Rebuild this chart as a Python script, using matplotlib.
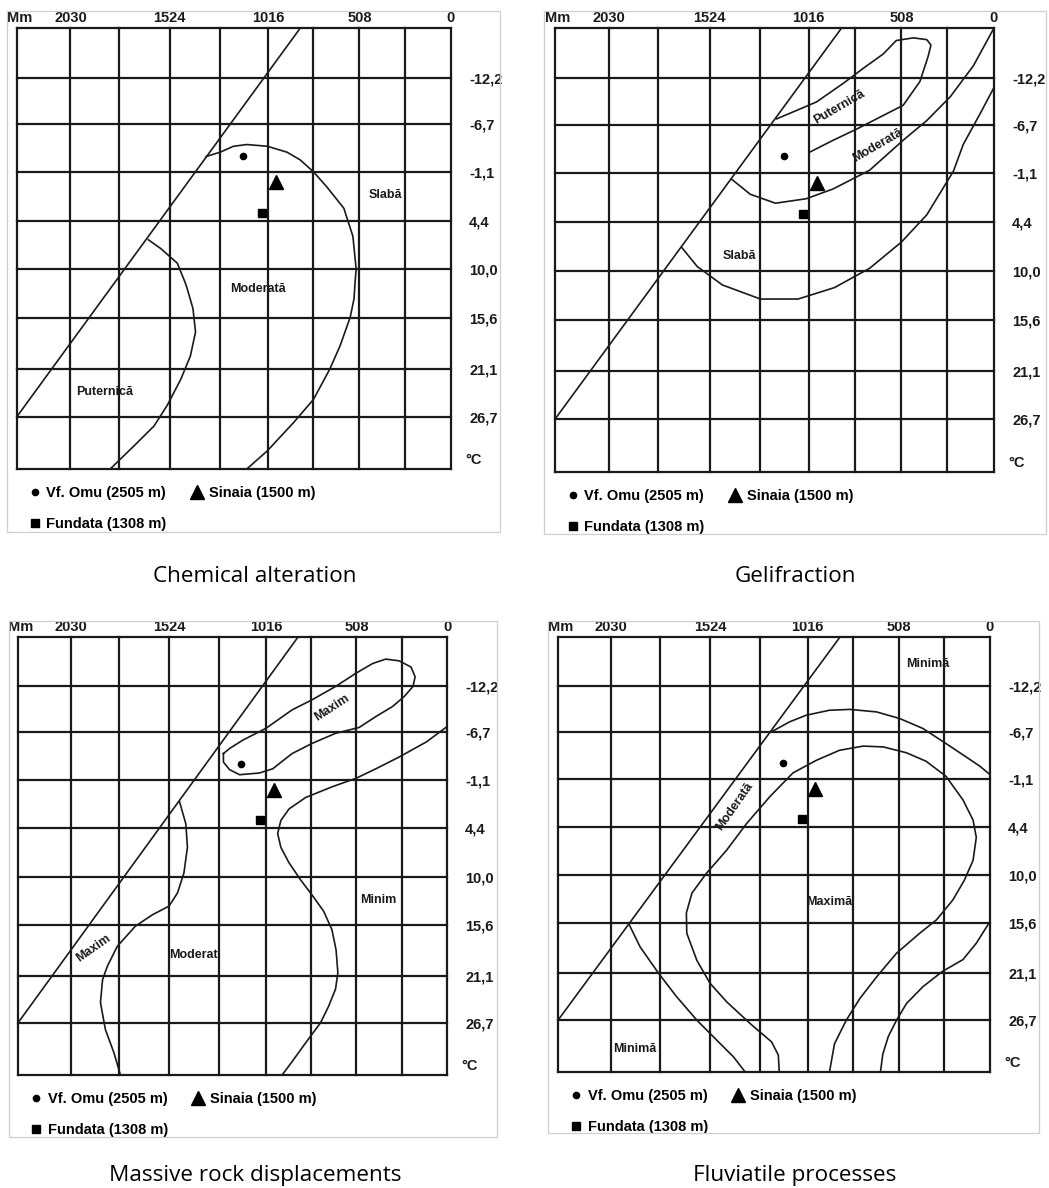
import matplotlib
matplotlib.use("Agg")
import matplotlib.pyplot as plt
import numpy as np
from matplotlib.patches import Rectangle

plt.rcParams['font.family'] = ['Liberation Sans', 'DejaVu Sans']

# ---------------- axes grid (precipitation mm, temperature °C) ----------------
P_GRID = [2286, 2032, 1778, 1524, 1270, 1016, 762, 508, 254, 0]
T_GRID = [-17.8, -12.2, -6.7, -1.1, 4.4, 10.0, 15.6, 21.1, 26.7, 32.2]
P_TICKS = [2032, 1524, 1016, 508, 0]
P_LABELS = ["2030", "1524", "1016", "508", "0"]
T_TICKS = [-12.2, -6.7, -1.1, 4.4, 10.0, 15.6, 21.1, 26.7]
T_LABELS = ["-12,2", "-6,7", "-1,1", "4,4", "10,0", "15,6", "21,1", "26,7"]

# diagonal limit line (same in every panel)
LIMIT_P = [835, 2286]
LIMIT_T = [-17.8, 26.7]

# stations
STATION_NAMES = ["Vf. Omu (2505 m)", "Sinaia (1500 m)", "Fundata (1308 m)"]
STATION_P = [1148, 973, 1046]
STATION_T = [-3.0, 0.1, 3.5]

# ---------------- Chemical alteration ----------------
CHEM_MOD_P = [1340, 1270, 1199, 1128, 1019, 909, 836, 762, 688, 594, 544, 526, 531, 538,
              559, 615, 671, 762, 871, 1019, 1128]
CHEM_MOD_T = [-2.9, -3.4, -4.1, -4.3, -4.1, -3.4, -2.5, -1.1, 0.6, 3.0, 6.2, 10.0, 11.2, 13.4,
              15.5, 18.6, 21.1, 24.7, 27.3, 30.3, 32.2]
CHEM_PUT_P = [1631, 1570, 1486, 1445, 1435, 1407, 1394, 1420, 1468, 1537, 1603, 1704, 1824]
CHEM_PUT_T = [6.6, 7.6, 9.3, 11.6, 12.3, 14.5, 17.1, 19.7, 22.3, 25.4, 27.7, 29.8, 32.2]
CHEM_LABELS = ["Slabă", "Moderată", "Puternică"]
CHEM_LABEL_P = [363, 1067, 1852]
CHEM_LABEL_T = [1.5, 12.3, 23.8]
CHEM_LABEL_ROT = [0, 0, 0]

# ---------------- Gelifraction ----------------
GEL_PUT_P = [1185, 1079, 973, 825, 716, 607, 536, 442, 368, 345, 361, 406, 498, 625, 752, 881, 1011]
GEL_PUT_T = [-7.4, -8.4, -9.4, -11.6, -13.3, -14.9, -16.4, -16.7, -16.5, -15.9, -14.6, -11.8,
             -9.0, -7.6, -6.2, -4.9, -3.5]
GEL_MOD_P = [1415, 1321, 1191, 1029, 881, 681, 498, 368, 239, 112, 0]
GEL_MOD_T = [-0.4, 1.3, 2.3, 1.8, 0.7, -1.4, -4.9, -7.2, -10.0, -13.6, -17.8]
GEL_SLA_P = [1662, 1585, 1460, 1270, 1072, 874, 681, 508, 368, 221, 168, 76, 0]
GEL_SLA_T = [7.3, 9.5, 11.6, 13.2, 13.2, 11.9, 9.7, 6.7, 3.6, -1.3, -4.4, -8.0, -11.1]
GEL_LABELS = ["Puternică", "Moderată", "Slabă"]
GEL_LABEL_P = [850, 635, 1377]
GEL_LABEL_T = [-8.8, -4.3, 8.3]
GEL_LABEL_ROT = [30, 30, 0]

# ---------------- Massive rock displacements ----------------
ROCK_MAX_P = [1245, 1212, 1140, 1016, 869, 757, 625, 511, 417, 343, 267, 201, 178, 190, 239,
              305, 399, 493, 625, 757, 869, 978, 1052, 1158, 1212, 1245, 1245]
ROCK_MAX_T = [-4.2, -4.8, -5.8, -7.2, -9.4, -10.6, -12.2, -13.7, -14.8, -15.3, -15.1, -14.4,
              -13.3, -12.2, -11.0, -9.8, -8.6, -7.3, -6.6, -5.4, -4.2, -2.4, -1.9, -1.7, -2.3,
              -3.2, -4.2]
ROCK_MIN_P = [0, 114, 267, 399, 508, 645, 792, 886, 932, 950, 932, 886, 820, 757, 691, 645,
              622, 612, 625, 663, 709, 792, 869, 925]
ROCK_MIN_T = [-7.4, -5.6, -3.8, -2.4, -1.3, -0.3, 0.9, 2.2, 3.5, 5.0, 6.6, 8.4, 10.4, 12.1,
              14.0, 16.1, 18.3, 20.8, 22.7, 24.7, 26.7, 28.8, 30.8, 32.2]
ROCK_MOD_P = [1470, 1438, 1430, 1448, 1481, 1524, 1608, 1694, 1786, 1839, 1864, 1875, 1849,
              1803, 1770]
ROCK_MOD_T = [1.4, 3.9, 6.6, 9.6, 11.9, 13.4, 14.4, 15.7, 17.9, 20.1, 21.6, 24.3, 27.4, 29.9, 32.2]
ROCK_LABELS = ["Maxim", "Maxim", "Moderat", "Minim"]
ROCK_LABEL_P = [645, 1910, 1397, 384]
ROCK_LABEL_T = [-9.6, 18.1, 18.8, 12.7]
ROCK_LABEL_ROT = [33, 35, 0, 0]

# ---------------- Fluviatile processes ----------------
FLUV_UP_P = [1210, 1113, 1024, 894, 780, 632, 503, 373, 244, 132, 56, 0]
FLUV_UP_T = [-6.7, -7.9, -8.7, -9.3, -9.4, -9.1, -8.3, -7.1, -5.3, -3.7, -2.6, -1.6]
FLUV_MAX_P = [1168, 1173, 1209, 1313, 1440, 1524, 1590, 1641, 1643, 1615, 1542, 1440, 1339,
              1217, 1095, 968, 838, 706, 594, 465, 356, 244, 150, 94, 76, 94, 142, 206, 297,
              391, 521, 630, 724, 800, 866, 894]
FLUV_MAX_T = [32.2, 30.4, 29.0, 27.2, 24.5, 22.3, 19.7, 16.7, 14.4, 12.1, 9.8, 7.1, 4.0, 0.9,
              -1.8, -3.3, -4.5, -5.0, -4.9, -4.2, -3.2, -1.4, 1.3, 3.6, 5.6, 8.3, 10.6, 12.9,
              15.2, 16.7, 18.9, 21.5, 24.1, 26.7, 29.2, 32.2]
FLUV_RIGHT_P = [0, 76, 150, 264, 373, 465, 521, 566, 597, 610]
FLUV_RIGHT_T = [15.4, 17.8, 19.6, 20.9, 22.7, 24.7, 26.7, 28.4, 30.3, 32.2]
FLUV_LEFT_P = [1936, 1880, 1783, 1692, 1590, 1491, 1405, 1346]
FLUV_LEFT_T = [15.8, 18.2, 21.1, 23.9, 26.7, 28.8, 30.6, 32.2]
FLUV_LABELS = ["Minimă", "Moderată", "Maximă", "Minimă"]
FLUV_LABEL_P = [345, 1397, 894, 1910]
FLUV_LABEL_T = [-14.7, 2.1, 13.1, 29.8]
FLUV_LABEL_ROT = [0, 55, 0, 0]

CAPTIONS = ["Chemical alteration", "Gelifraction", "Massive rock displacements",
            "Fluviatile processes"]

# ---------------- layout (pixels of a 1049x1188 canvas) ----------------
W, H = 1049, 1188
GRID_BOX = [(17, 28, 451, 469), (555, 28, 994, 472), (18, 637, 447, 1075), (558, 637, 990, 1072)]
FRAME_BOX = [(7, 11, 500, 532), (544, 11, 1046, 534), (9, 621, 497, 1137), (548, 621, 1039, 1133)]
CAPTION_XY = [(255, 577), (795, 577), (255, 1176), (795, 1176)]
# the scanned grids are slightly uneven: where each grid line sits across the box
COL_FRAC = [0, 0.123, 0.235, 0.352, 0.468, 0.578, 0.683, 0.789, 0.894, 1.0]
ROW_FRAC = [0, 0.113, 0.218, 0.326, 0.437, 0.547, 0.658, 0.773, 0.881, 1.0]

P_ASC = P_GRID[::-1]
COL_ASC_INV = [1.0 - f for f in COL_FRAC[::-1]]   # increasing with precipitation


def x_fwd(v):
    return np.interp(v, P_ASC, COL_ASC_INV)


def x_inv(s):
    return np.interp(s, COL_ASC_INV, P_ASC)


def y_fwd(v):
    return np.interp(v, T_GRID, ROW_FRAC)


def y_inv(s):
    return np.interp(s, ROW_FRAC, T_GRID)


PANELS = [
    dict(curves=[(CHEM_MOD_P, CHEM_MOD_T), (CHEM_PUT_P, CHEM_PUT_T)],
         labels=list(zip(CHEM_LABELS, CHEM_LABEL_P, CHEM_LABEL_T, CHEM_LABEL_ROT))),
    dict(curves=[(GEL_PUT_P, GEL_PUT_T), (GEL_MOD_P, GEL_MOD_T), (GEL_SLA_P, GEL_SLA_T)],
         labels=list(zip(GEL_LABELS, GEL_LABEL_P, GEL_LABEL_T, GEL_LABEL_ROT))),
    dict(curves=[(ROCK_MAX_P, ROCK_MAX_T), (ROCK_MIN_P, ROCK_MIN_T), (ROCK_MOD_P, ROCK_MOD_T)],
         labels=list(zip(ROCK_LABELS, ROCK_LABEL_P, ROCK_LABEL_T, ROCK_LABEL_ROT))),
    dict(curves=[(FLUV_UP_P, FLUV_UP_T), (FLUV_MAX_P, FLUV_MAX_T), (FLUV_RIGHT_P, FLUV_RIGHT_T),
                 (FLUV_LEFT_P, FLUV_LEFT_T)],
         labels=list(zip(FLUV_LABELS, FLUV_LABEL_P, FLUV_LABEL_T, FLUV_LABEL_ROT))),
]

INK = '#1a1a1a'
fig = plt.figure(figsize=(W / 100, H / 100), dpi=100)
fig.patch.set_facecolor('white')

for i, panel in enumerate(PANELS):
    # light frame of the original picture
    fx0, fy0, fx1, fy1 = FRAME_BOX[i]
    fig.add_artist(Rectangle((fx0 / W, 1 - fy1 / H), (fx1 - fx0) / W, (fy1 - fy0) / H,
                             transform=fig.transFigure, fill=False, ec='#cfcfcf', lw=0.9))

    x0, y0, x1, y1 = GRID_BOX[i]
    ax = fig.add_axes([x0 / W, 1 - y1 / H, (x1 - x0) / W, (y1 - y0) / H])
    ax.set_xscale('function', functions=(x_fwd, x_inv))
    ax.set_yscale('function', functions=(y_fwd, y_inv))
    ax.set_xlim(P_GRID[0], P_GRID[-1])
    ax.set_ylim(T_GRID[-1], T_GRID[0])
    ax.minorticks_off()
    for s in ax.spines.values():
        s.set_visible(False)
    for p in P_GRID:
        ax.axvline(p, color=INK, lw=1.6, clip_on=False, zorder=1)
    for t in T_GRID:
        ax.axhline(t, color=INK, lw=1.6, clip_on=False, zorder=1)

    ax.plot(LIMIT_P, LIMIT_T, color=INK, lw=1.2, zorder=2)
    for cp, ct in panel['curves']:
        ax.plot(cp, ct, color=INK, lw=1.2, zorder=2, solid_joinstyle='round')

    h_omu, = ax.plot([STATION_P[0]], [STATION_T[0]], 'o', color='black', ms=4.5, ls='none',
                     label=STATION_NAMES[0], zorder=3)
    h_sin, = ax.plot([STATION_P[1]], [STATION_T[1]], '^', color='black', ms=9.5, ls='none',
                     label=STATION_NAMES[1], zorder=3)
    h_fun, = ax.plot([STATION_P[2]], [STATION_T[2]], 's', color='black', ms=5.2, ls='none',
                     label=STATION_NAMES[2], zorder=3)

    for txt, lp, lt, rot in panel['labels']:
        ax.text(lp, lt, txt, fontsize=9, fontweight='bold', color=INK, ha='center',
                va='center', rotation=rot, rotation_mode='anchor', zorder=4)

    ax.xaxis.tick_top()
    ax.set_xticks(P_TICKS, P_LABELS)
    ax.tick_params(axis='x', length=0, pad=2.5, labelsize=10.5, colors=INK)
    ax.yaxis.tick_right()
    ax.set_yticks(T_TICKS, T_LABELS)
    ax.tick_params(axis='y', length=0, pad=13, labelsize=10.5, colors=INK)
    ax.minorticks_off()
    for lbl in ax.get_xticklabels() + ax.get_yticklabels():
        lbl.set_fontweight('bold')

    ax.annotate("Mm", xy=(0, 1), xycoords='axes fraction', xytext=(-10, 10),
                textcoords='offset pixels', ha='left', va='center', fontsize=10.5,
                fontweight='bold', color=INK)
    ax.annotate("°C", xy=(1, 0), xycoords='axes fraction', xytext=(14, 9),
                textcoords='offset pixels', ha='left', va='center', fontsize=10.5,
                fontweight='bold', color=INK)

    aw, ah = (x1 - x0), (y1 - y0)
    ax.legend(handles=[h_omu, h_fun, h_sin], ncol=2, loc='upper left',
              bbox_to_anchor=(12 / aw, -17 / ah), frameon=False, borderpad=0,
              handlelength=0.8, handletextpad=0.4, columnspacing=1.7, labelspacing=1.15,
              borderaxespad=0, prop={'weight': 'bold', 'size': 10.5})

    cx, cy = CAPTION_XY[i]
    fig.text(cx / W, 1 - cy / H, CAPTIONS[i], ha='center', va='center', fontsize=16.2,
             family=['Open Sans', 'DejaVu Sans'], color='black')

fig.savefig("out.png", dpi=100, facecolor='white')
